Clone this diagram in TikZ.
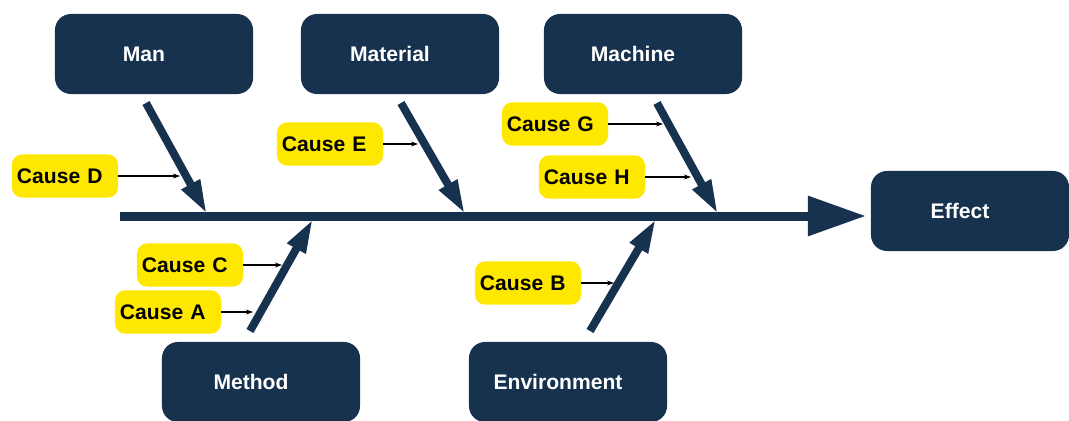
\documentclass[tikz,border=0pt]{standalone}
\usepackage{fontspec}
\setmainfont{Liberation Sans}
\usetikzlibrary{arrows.meta}
\definecolor{navy}{RGB}{22,50,79}
\definecolor{causeyellow}{RGB}{255,232,0}
\newcommand{\boxtext}[1]{#1\kern.5cm}
\tikzset{
  catbox/.style={fill=navy,text=white,rounded corners=.4cm,minimum width=4.95cm,minimum height=2cm,
    font=\fontsize{15}{18}\selectfont\bfseries},
  causebox/.style={fill=causeyellow,text=black,rounded corners=.25cm,inner xsep=.125cm,text width=2.4cm,
    align=left,minimum height=1.08cm,font=\fontsize{15}{18}\selectfont\bfseries},
  spine/.style={draw=navy,line width=6.4pt,-{Triangle[length=1.45cm,width=.95cm]}},
  bone/.style={draw=navy,line width=5.7pt,-{Triangle[length=.85cm,width=.48cm]}},
  twig/.style={draw=black,line width=.8pt,-{Stealth[length=5pt,width=3.5pt]}}
}
\begin{document}
\begin{tikzpicture}[x=.025cm,y=-.025cm]
\useasboundingbox(0,0)rectangle(1069,420);
%spine
\coordinate (tail) at (120,216);
\coordinate (head) at (866,216);
\draw[spine](tail)--(head);
\node[catbox] (effect) at (970,211) {\boxtext{Effect}};
%categories
\node[catbox] (man) at (154,54) {\boxtext{Man}};
\node[catbox] (material) at (400,54) {\boxtext{Material}};
\node[catbox] (machine) at (643,54) {\boxtext{Machine}};
\node[catbox] (method) at (261,382) {\boxtext{Method}};
\node[catbox] (environment) at (568,382) {\boxtext{Environment}};
%bones
\coordinate (manfoot) at (146,103);
\coordinate (manjoint) at (207,214);
\coordinate (materialfoot) at (401,103);
\coordinate (materialjoint) at (465,214);
\coordinate (machinefoot) at (657,103);
\coordinate (machinejoint) at (718,214);
\coordinate (methodfoot) at (250,331);
\coordinate (methodjoint) at (313,219);
\coordinate (environmentfoot) at (590,331);
\coordinate (environmentjoint) at (656,219);
\draw[bone](manfoot)--(manjoint);
\draw[bone](materialfoot)--(materialjoint);
\draw[bone](machinefoot)--(machinejoint);
\draw[bone](methodfoot)--(methodjoint);
\draw[bone](environmentfoot)--(environmentjoint);
%causes
\node[causebox] (causeD) at (65,176) {Cause D};
\node[causebox] (causeE) at (330,144) {Cause E};
\node[causebox] (causeG) at (555,124) {Cause G};
\node[causebox] (causeH) at (592,177) {Cause H};
\node[causebox] (causeC) at (190,265) {Cause C};
\node[causebox] (causeA) at (168,312) {Cause A};
\node[causebox] (causeB) at (528,283) {Cause B};
\coordinate (tipD) at (180,176);
\coordinate (tipE) at (418,144);
\coordinate (tipG) at (663,124);
\coordinate (tipH) at (691,177);
\coordinate (tipC) at (282,265);
\coordinate (tipA) at (253,312);
\coordinate (tipB) at (614,283);
\draw[twig](causeD.east)--(tipD);
\draw[twig](causeE.east)--(tipE);
\draw[twig](causeG.east)--(tipG);
\draw[twig](causeH.east)--(tipH);
\draw[twig](causeC.east)--(tipC);
\draw[twig](causeA.east)--(tipA);
\draw[twig](causeB.east)--(tipB);
\end{tikzpicture}
\end{document}
